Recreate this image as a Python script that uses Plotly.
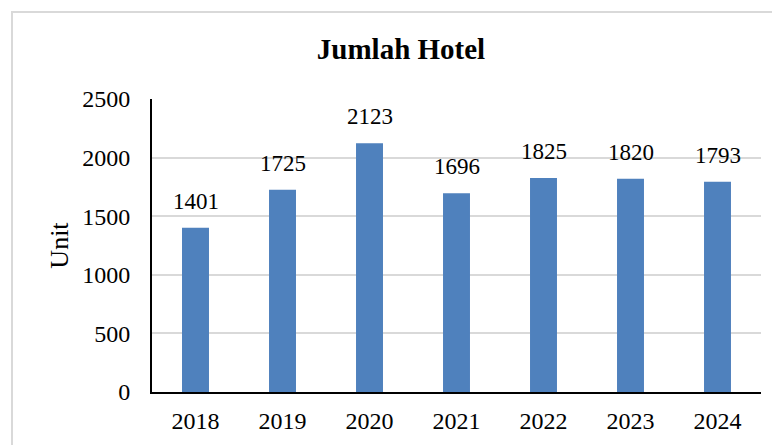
import plotly.graph_objects as go

years = ["2018", "2019", "2020", "2021", "2022", "2023", "2024"]
hotels = [1401, 1725, 2123, 1696, 1825, 1820, 1793]
y_ticks = [0, 500, 1000, 1500, 2000, 2500]

FONT = "Liberation Serif, Times New Roman, serif"
BAR = "#4F81BD"

fig = go.Figure()
fig.add_trace(go.Bar(x=years, y=hotels, marker=dict(color=BAR, line=dict(width=0)),
                     hoverinfo="x+y"))

# category axis: annotation x given as category index
for i, v in enumerate(hotels):
    fig.add_annotation(x=i, y=v, text=str(v), showarrow=False, yanchor="bottom",
                       yshift=12, font=dict(family=FONT, size=23, color="black"))

# page body has an 8px margin, so the figure is drawn 8px in from the window edge
W, H = 772, 437
L, R, T, B = 144, 19, 91, 53
pw, ph = W - L - R, H - T - B
fig.add_shape(type="rect", xref="paper", yref="paper",
              x0=(4 - L) / pw, x1=(W + 10 - L) / pw,
              y0=(H - B - (H + 10)) / ph, y1=(H - B - 4) / ph,
              line=dict(color="#d9d9d9", width=2), fillcolor="rgba(0,0,0,0)", layer="below")

fig.update_layout(
    width=W, height=H,
    margin=dict(l=L, r=R, t=T, b=B, autoexpand=False),
    paper_bgcolor="white", plot_bgcolor="white",
    bargap=0.69,
    showlegend=False,
    title=dict(text="<b>Jumlah Hotel</b>", x=393 / W, xanchor="center", xref="container",
               y=1 - 41 / H, yanchor="middle", yref="container",
               font=dict(family=FONT, size=29, color="black")),
    font=dict(family=FONT, size=24, color="black"),
)
fig.update_xaxes(type="category", range=[-0.5, len(years) - 0.5], showline=True,
                 linecolor="black", linewidth=2, ticks="", automargin=False,
                 tickfont=dict(family=FONT, size=24, color="black"),
                 ticklabelstandoff=6, showgrid=False)
fig.update_yaxes(range=[0, 2500], tickvals=y_ticks, showline=True, linecolor="black",
                 linewidth=2, showgrid=True, gridcolor="#d9d9d9", gridwidth=2,
                 zeroline=False, ticks="", ticklabelstandoff=15, automargin=False,
                 tickfont=dict(family=FONT, size=24, color="black"),
                 title=dict(text="Unit", font=dict(family=FONT, size=26, color="black"),
                            standoff=6))

fig.write_html("out.html")
